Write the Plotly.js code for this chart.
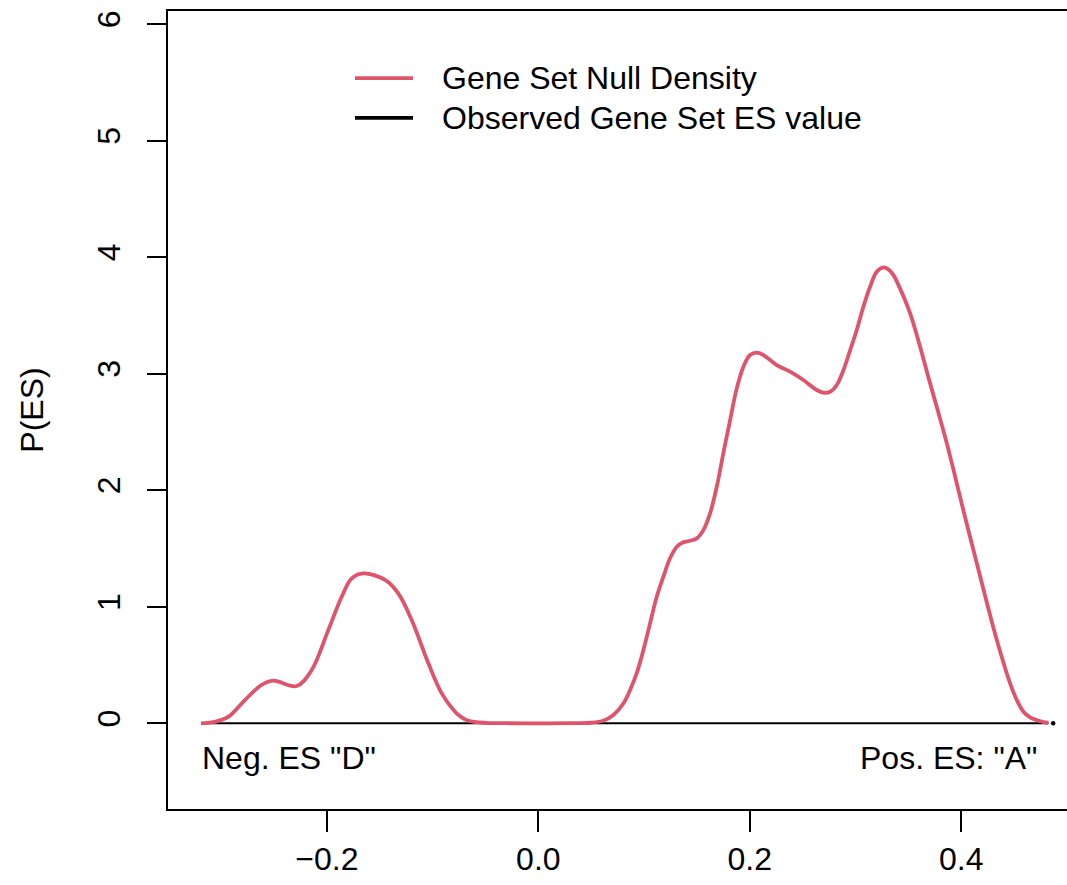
<!DOCTYPE html>
<html>
<head>
<meta charset="utf-8">
<script src="https://cdn.plot.ly/plotly-3.0.1.min.js"></script>
<style>
  html, body { margin: 0; padding: 0; overflow: hidden; background: #fff; }
  #chart { width: 1088px; height: 885px; }
</style>
</head>
<body>
<div id="chart"></div>
<script>
// Null density of the gene set enrichment score
const esX = [-0.319, -0.305, -0.293, -0.2775, -0.2617, -0.2507, -0.2286, -0.2144, -0.1987, -0.186,
  -0.1765, -0.1656, -0.145, -0.1325, -0.1198, -0.104, -0.0914, -0.0788, -0.0725, -0.0662,
  -0.05, -0.03, 0.0, 0.03, 0.049, 0.0615, 0.071, 0.0804, 0.0868, 0.0931,
  0.0994, 0.1057, 0.112, 0.1183, 0.1246, 0.131, 0.1372, 0.1435, 0.1499, 0.1561,
  0.1624, 0.1688, 0.175, 0.1814, 0.1877, 0.194, 0.2003, 0.2066, 0.2129, 0.2255,
  0.2381, 0.2507, 0.2634, 0.2696, 0.276, 0.2823, 0.2886, 0.2949, 0.3012, 0.3075,
  0.3138, 0.3201, 0.3264, 0.3311, 0.3359, 0.3422, 0.3517, 0.3611, 0.3706, 0.3864,
  0.402, 0.418, 0.4337, 0.4463, 0.4526, 0.4589, 0.4652, 0.4715, 0.4778, 0.4825];
const esDensity = [0.0, 0.015, 0.057, 0.2, 0.33, 0.366, 0.32, 0.457, 0.80, 1.086,
  1.244, 1.287, 1.23, 1.115, 0.886, 0.515, 0.257, 0.10, 0.051, 0.022,
  0.004, 0.001, 0.0, 0.001, 0.005, 0.022, 0.071, 0.17, 0.286, 0.43,
  0.629, 0.858, 1.086, 1.258, 1.416, 1.515, 1.553, 1.567, 1.587, 1.658,
  1.80, 2.03, 2.317, 2.602, 2.874, 3.06, 3.16, 3.18, 3.16, 3.074,
  3.017, 2.946, 2.86, 2.837, 2.845, 2.903, 3.03, 3.2, 3.375, 3.575,
  3.746, 3.875, 3.912, 3.895, 3.846, 3.73, 3.518, 3.231, 2.917, 2.402,
  1.83, 1.258, 0.715, 0.343, 0.2, 0.1, 0.051, 0.028, 0.011, 0.005];

// Baseline and observed ES value
const baselineX = [-0.319, 0.4825];
const baselineY = [0, 0];
const observedES = [0.487];
const observedY = [0];

// Axis ticks
const xTickVals = [-0.2, 0.0, 0.2, 0.4];
const xTickText = ["\u22120.2", "0.0", "0.2", "0.4"];
const yTickVals = [0, 1, 2, 3, 4, 5, 6];
const yTickText = ["0", "1", "2", "3", "4", "5", "6"];

// Labels
const seriesNames = ["Gene Set Null Density", "Observed Gene Set ES value"];
const seriesColors = ["#DF536B", "#000000"];
const negLabel = 'Neg. ES "D"';
const posLabel = 'Pos. ES: "A"';
const yLabel = "P(ES)";

const FONT = "Liberation Sans, Arial, Helvetica, sans-serif";
const FS = 32;

const traces = [
  {
    x: baselineX, y: baselineY, mode: "lines", showlegend: false, hoverinfo: "skip",
    line: { color: "#000000", width: 2 }
  },
  {
    x: esX, y: esDensity, mode: "lines", name: seriesNames[0], showlegend: false,
    line: { color: seriesColors[0], width: 3.8, shape: "spline", smoothing: 1 }
  },
  {
    x: observedES, y: observedY, mode: "markers", name: seriesNames[1], showlegend: false,
    marker: { color: seriesColors[1], size: 4.5 }
  }
];

// Legend (drawn as in R's legend(): a line key and a text label per row)
const legendRowsY = [0.916, 0.866];
const legendKeyX = [0.2035, 0.2666];
const legendTextX = 0.2959;
const shapes = [];
const annotations = [];
seriesNames.forEach(function (name, i) {
  shapes.push({ type: "line", xref: "paper", yref: "paper",
    x0: legendKeyX[0], x1: legendKeyX[1], y0: legendRowsY[i], y1: legendRowsY[i],
    line: { color: seriesColors[i], width: 3.8 } });
  annotations.push({ xref: "paper", yref: "paper", x: legendTextX, y: legendRowsY[i],
    text: name, showarrow: false, xanchor: "left", yanchor: "middle",
    font: { family: FONT, size: FS, color: "#000000" } });
});
annotations.push(
  { x: -0.320, y: -0.298, xref: "x", yref: "y", text: negLabel, showarrow: false,
    xanchor: "left", yanchor: "middle", font: { family: FONT, size: FS, color: "#000000" } },
  { x: 0.4738, y: -0.298, xref: "x", yref: "y", text: posLabel, showarrow: false,
    xanchor: "right", yanchor: "middle", font: { family: FONT, size: FS, color: "#000000" } }
);

const layout = {
  width: 1088, height: 885,
  margin: { l: 168, r: 1, t: 11, b: 76 },
  paper_bgcolor: "#ffffff", plot_bgcolor: "#ffffff",
  font: { family: FONT, size: FS, color: "#000000" },
  showlegend: false,
  xaxis: {
    range: [-0.3503, 0.519], showgrid: false, zeroline: false,
    showline: true, mirror: true, linecolor: "#000000", linewidth: 2,
    ticks: "outside", ticklen: 21, tickwidth: 2, tickcolor: "#000000",
    tickvals: xTickVals, ticktext: xTickText,
    tickfont: { family: FONT, size: FS, color: "#000000" }
  },
  yaxis: {
    range: [-0.735, 6.112], showgrid: false, zeroline: false,
    showline: true, mirror: true, linecolor: "#000000", linewidth: 2,
    ticks: "outside", ticklen: 19, tickwidth: 2, tickcolor: "#000000",
    tickvals: yTickVals, ticktext: yTickText, tickangle: -90, ticklabelstandoff: 14,
    tickfont: { family: FONT, size: FS, color: "#000000" },
    title: { text: yLabel, font: { family: FONT, size: FS, color: "#000000" }, standoff: 38 }
  },
  shapes: shapes,
  annotations: annotations
};

Plotly.newPlot("chart", traces, layout, { displayModeBar: false, staticPlot: true });
</script>
</body>
</html>
